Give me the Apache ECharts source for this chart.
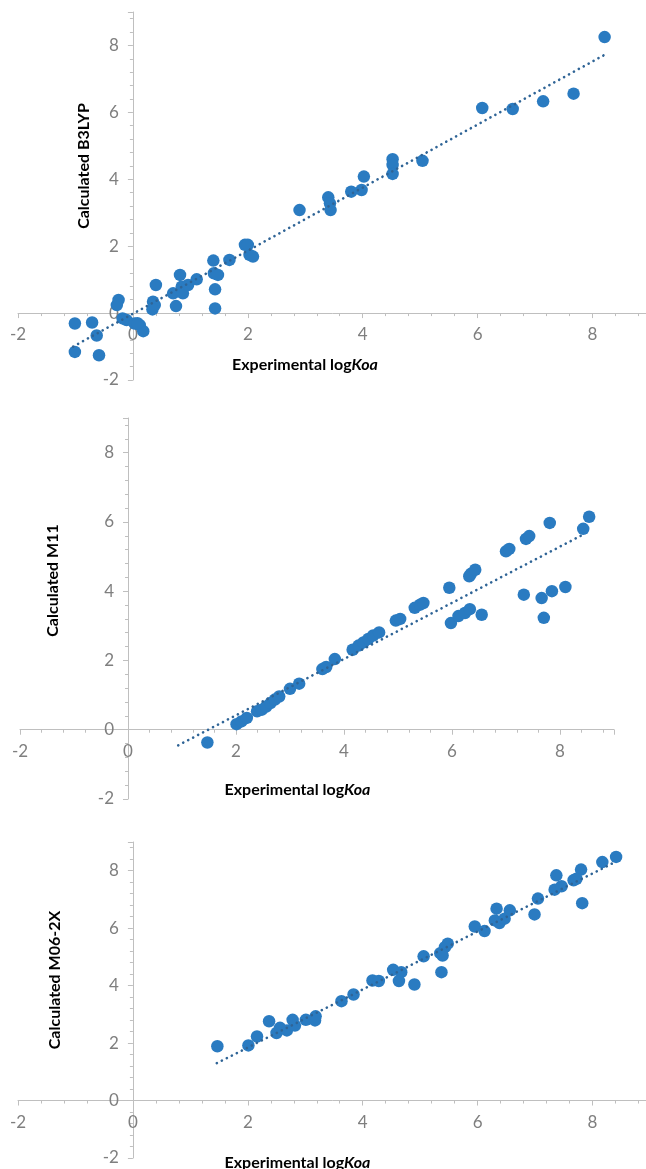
<!DOCTYPE html>
<html>
<head>
<meta charset="utf-8">
<script src="https://cdn.jsdelivr.net/npm/echarts@6/dist/echarts.min.js"></script>
<style>
html,body{margin:0;padding:0;background:#fff;}
#chart{width:646px;height:1169px;}
</style>
</head>
<body>
<div id="chart"></div>
<script>
// Panel 1: B3LYP
var b3lypX = [-1.01,-0.71,-0.63,-1.01,-0.59,-0.25,-0.28,-0.18,-0.11,0.03,0.12,0.18,0.08,0.40,0.35,0.38,0.34,0.75,0.70,0.82,0.85,0.87,0.96,1.11,1.40,1.41,1.48,1.43,1.43,1.68,1.95,2.00,2.03,2.09,2.90,3.40,3.43,3.44,3.80,3.98,4.02,4.52,4.52,4.52,5.04,6.08,6.61,7.14,7.67,8.21];
var b3lypY = [-0.31,-0.28,-0.67,-1.16,-1.26,0.39,0.24,-0.16,-0.21,-0.31,-0.36,-0.54,-0.30,0.84,0.34,0.24,0.11,0.21,0.59,1.14,0.79,0.59,0.84,1.01,1.57,1.19,1.14,0.71,0.14,1.59,2.04,2.04,1.74,1.69,3.08,3.46,3.28,3.08,3.63,3.68,4.08,4.60,4.43,4.16,4.55,6.13,6.10,6.33,6.56,8.25];
var b3lypTrend = [[-1.04,-1.00],[8.21,7.72]];

// Panel 2: M11
var m11X = [1.47,2.01,2.10,2.20,2.39,2.48,2.56,2.64,2.72,2.80,3.00,3.17,3.60,3.67,3.83,4.16,4.27,4.36,4.45,4.54,4.65,4.96,5.04,5.31,5.41,5.47,5.95,5.98,6.12,6.24,6.33,6.55,6.32,6.35,6.43,7.00,7.06,7.37,7.43,7.81,8.43,8.54,7.33,7.66,7.85,8.10,7.70];
var m11Y = [-0.37,0.16,0.24,0.34,0.53,0.58,0.67,0.77,0.87,0.96,1.18,1.33,1.75,1.81,2.04,2.31,2.43,2.52,2.62,2.72,2.81,3.15,3.20,3.52,3.61,3.66,4.10,3.08,3.28,3.37,3.48,3.32,4.43,4.50,4.62,5.15,5.22,5.51,5.59,5.97,5.80,6.15,3.90,3.80,4.00,4.12,3.23];
var m11Trend = [[0.93,-0.45],[8.46,5.66]];

// Panel 3: M06-2X
var m06X = [1.47,2.01,2.16,2.37,2.50,2.56,2.68,2.78,2.82,3.01,3.17,3.18,3.63,3.84,4.17,4.28,4.53,4.67,4.63,4.90,5.06,5.35,5.43,5.48,5.39,5.37,5.95,6.12,6.33,6.30,6.38,6.56,6.47,6.99,7.05,7.34,7.46,7.37,7.67,7.80,7.82,8.17,8.41,7.72];
var m06Y = [1.89,1.92,2.23,2.76,2.35,2.53,2.44,2.81,2.61,2.81,2.79,2.93,3.46,3.69,4.18,4.16,4.55,4.47,4.16,4.04,5.02,5.13,5.34,5.46,5.05,4.47,6.06,5.90,6.68,6.27,6.18,6.62,6.33,6.48,7.03,7.34,7.46,7.84,7.67,8.04,6.87,8.30,8.48,7.72];
var m06Trend = [[1.46,1.30],[8.41,8.32]];

var yNames = ['Calculated B3LYP', 'Calculated M11', 'Calculated M06-2X'];
var xName = '{n|Experimental log}{i|Koa}';
var axisMin = -2, axisMax = 9, axisStep = 2;

var FONT = 'Lato, "Open Sans", sans-serif';
var POINT = '#2A7BC1';
var TREND = '#2F6496';
var AXIS = '#BFBFBF';
var LABEL = '#7F7F7F';

var grids = [
  {left: 18, top: 12, width: 632, height: 368},
  {left: 20, top: 418, width: 594, height: 381},
  {left: 18, top: 842, width: 632, height: 316}
];
var yNameGap = [40, 67, 70];
var yNameShift = [60, 56, 40];
var xNameGap = [44, 52, 54];
var xNameShift = [58, 39, 73];

// axes cross at zero: distance (px) of the zero line from the grid's left/bottom edge
function zeroFromBottom(g) { return g.height * (0 - axisMin) / (axisMax - axisMin); }
function zeroFromLeft(g) { return g.width * (0 - axisMin) / (axisMax - axisMin); }

function mkX(i) {
  return {
    type: 'value', gridIndex: i, min: axisMin, max: axisMax, interval: axisStep,
    position: 'bottom', offset: -zeroFromBottom(grids[i]),
    name: xName, nameLocation: 'middle', nameGap: xNameGap[i],
    nameTextStyle: {
      padding: [0, xNameShift[i], 0, 0],
      rich: {
        n: {fontFamily: FONT, fontWeight: 'bold', fontSize: 16, color: '#000'},
        i: {fontFamily: FONT, fontWeight: 'bold', fontStyle: 'italic', fontSize: 16, color: '#000'}
      }
    },
    axisLine: {show: true, onZero: false, lineStyle: {color: AXIS, width: 1}},
    axisTick: {show: true, length: 5, lineStyle: {color: AXIS}},
    minorTick: {show: true, splitNumber: 5, length: 3, lineStyle: {color: AXIS}},
    splitLine: {show: false},
    axisLabel: {color: LABEL, fontFamily: FONT, fontSize: 17, margin: 13, showMaxLabel: false}
  };
}
function mkY(i) {
  return {
    type: 'value', gridIndex: i, min: axisMin, max: axisMax, interval: axisStep,
    position: 'left', offset: -zeroFromLeft(grids[i]),
    name: yNames[i], nameLocation: 'middle', nameGap: yNameGap[i], nameRotate: 90,
    nameTextStyle: {fontFamily: FONT, fontWeight: 'bold', fontSize: 16, color: '#000',
      padding: [0, 0, 0, yNameShift[i]]},
    axisLine: {show: true, onZero: false, lineStyle: {color: AXIS, width: 1}},
    axisTick: {show: true, length: 5, lineStyle: {color: AXIS}},
    minorTick: {show: true, splitNumber: 5, length: 3, lineStyle: {color: AXIS}},
    splitLine: {show: false},
    axisLabel: {color: LABEL, fontFamily: FONT, fontSize: 17, margin: 14, showMaxLabel: false}
  };
}
function pairs(xs, ys) { return xs.map(function (x, k) { return [x, ys[k]]; }); }
function scatter(i, xs, ys) {
  return {type: 'scatter', xAxisIndex: i, yAxisIndex: i, data: pairs(xs, ys),
    symbolSize: 12.5, itemStyle: {color: POINT, opacity: 1}, z: 2, silent: true};
}
function trend(i, pts) {
  return {type: 'line', xAxisIndex: i, yAxisIndex: i, data: pts, showSymbol: false, symbol: 'none',
    lineStyle: {color: TREND, width: 2.6, type: [0.1, 5.5], cap: 'round'}, z: 3, silent: true};
}

var chart = echarts.init(document.getElementById('chart'), null, {renderer: 'canvas'});
chart.setOption({
  animation: false,
  backgroundColor: '#fff',
  grid: grids.map(function (g) { return Object.assign({outerBoundsMode: 'none', containLabel: false}, g); }),
  xAxis: [mkX(0), mkX(1), mkX(2)],
  yAxis: [mkY(0), mkY(1), mkY(2)],
  series: [
    scatter(0, b3lypX, b3lypY), trend(0, b3lypTrend),
    scatter(1, m11X, m11Y), trend(1, m11Trend),
    scatter(2, m06X, m06Y), trend(2, m06Trend)
  ]
});
</script>
</body>
</html>
